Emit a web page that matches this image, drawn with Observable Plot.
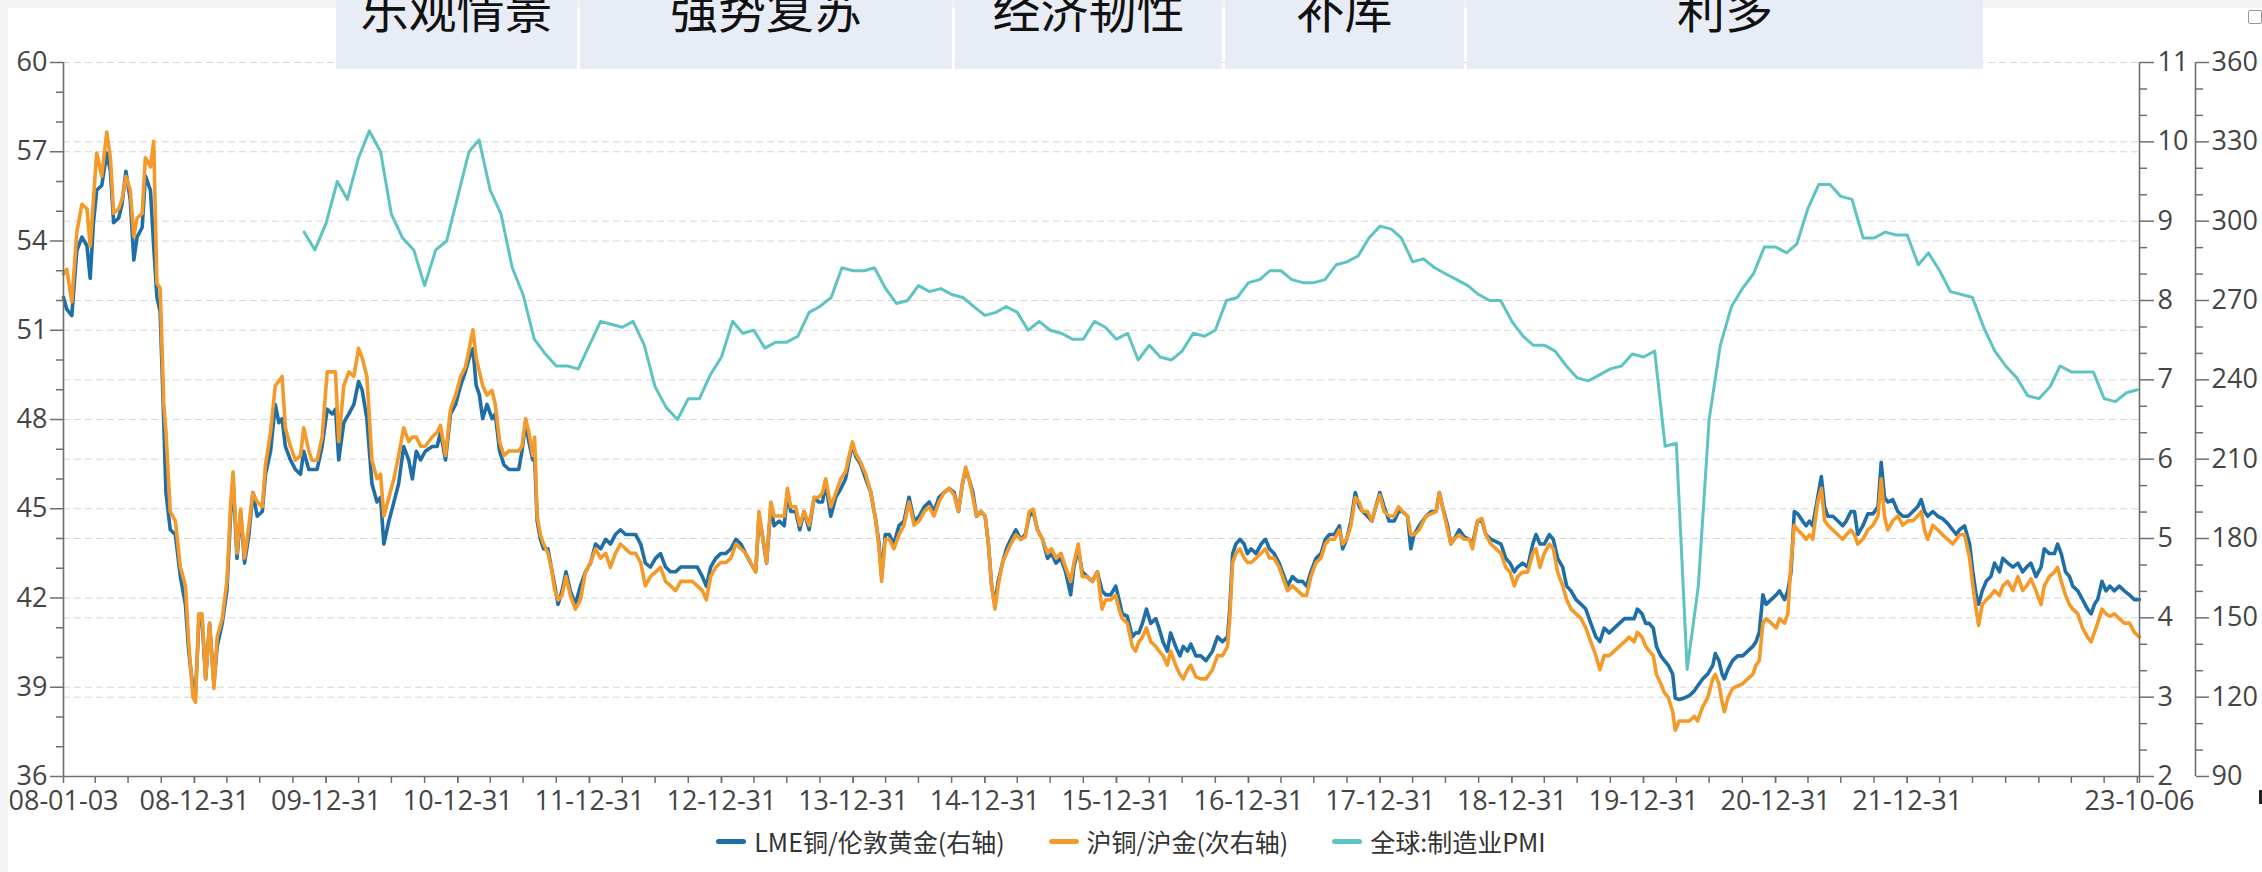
<!DOCTYPE html>
<html><head><meta charset="utf-8">
<script src="https://cdn.jsdelivr.net/npm/d3@7"></script>
<script src="https://cdn.jsdelivr.net/npm/@observablehq/plot@0.6"></script>
<style>
html,body{margin:0;padding:0;}
body{width:2262px;height:872px;background:#f3f3f3;position:relative;overflow:hidden;font-family:"Open Sans",sans-serif;}
#panel{position:absolute;left:8px;top:8px;width:2254px;height:864px;background:#fff;}
#chart{position:absolute;left:0;top:0;}
#hdr{position:absolute;left:336px;top:0;height:69px;display:flex;gap:3px;}
.cell{height:69px;background:#e8ecf5;position:relative;overflow:hidden;}
.cell span{position:absolute;left:0;right:0;top:-17px;text-align:center;font-family:"Noto Sans CJK SC";font-size:48px;line-height:48px;color:#111;white-space:nowrap;}
#legend{position:absolute;left:0;width:2262px;top:826px;height:30px;display:flex;justify-content:center;align-items:center;gap:44px;font-family:"Noto Sans CJK SC";font-size:25px;color:#333;}
.item{display:flex;align-items:center;gap:8px;}
.sym{width:30px;height:5px;border-radius:3px;}
#icon{position:absolute;left:2248px;top:10px;width:12px;height:12px;border:1.5px solid #999;border-radius:2px;}
#mark{position:absolute;left:2259px;top:790px;width:3px;height:14px;background:#222;}
</style></head><body>
<div id="panel"></div>
<div id="chart"></div>
<div id="hdr"></div>
<div id="legend"></div>
<div id="icon"></div>
<div id="mark"></div>
<script>
// ---------- DATA ----------
const seriesNames = ["LME铜/伦敦黄金(右轴)", "沪铜/沪金(次右轴)", "全球:制造业PMI"];
const headerLabels = ["乐观情景", "强势复苏", "经济韧性", "补库", "利多"];

// sample dates of the two copper/gold ratios, as decimal years
const ratioYears = [
 2008.006,2008.031,2008.069,2008.107,2008.144,2008.182,2008.208,2008.233,2008.258,2008.296,
 2008.334,2008.360,2008.385,2008.423,2008.448,2008.479,2008.511,2008.537,2008.562,2008.600,
 2008.625,2008.663,2008.689,2008.714,2008.739,2008.765,2008.782,2008.815,2008.853,2008.891,
 2008.929,2008.954,2008.985,2009.005,2009.030,2009.056,2009.081,2009.111,2009.144,2009.170,
 2009.207,2009.245,2009.271,2009.291,2009.321,2009.347,2009.377,2009.410,2009.440,2009.473,
 2009.511,2009.536,2009.574,2009.612,2009.638,2009.663,2009.688,2009.726,2009.764,2009.802,
 2009.828,2009.866,2009.891,2009.929,2009.967,2010.005,2010.043,2010.068,2010.093,2010.131,
 2010.169,2010.207,2010.245,2010.271,2010.308,2010.346,2010.384,2010.410,2010.435,2010.473,
 2010.511,2010.549,2010.587,
 2010.625,2010.651,2010.681,2010.714,2010.752,2010.802,2010.840,2010.866,2010.904,2010.942,
 2010.980,2011.018,2011.056,2011.086,2011.111,2011.137,2011.162,2011.187,2011.220,2011.258,
 2011.283,2011.314,2011.347,2011.385,2011.423,2011.460,2011.486,2011.511,2011.536,2011.567,
 2011.582,2011.600,2011.625,2011.650,2011.683,2011.708,2011.734,2011.759,2011.790,2011.820,
 2011.853,2011.891,2011.929,2011.967,2012.005,2012.043,2012.081,2012.119,2012.157,2012.194,
 2012.232,2012.270,2012.308,2012.346,2012.384,2012.422,2012.460,2012.498,2012.536,2012.574,
 2012.612,2012.650,2012.688,2012.726,2012.777,2012.815,2012.853,2012.883,2012.916,2012.954,
 2012.992,2013.030,2013.068,2013.106,2013.144,
 2013.182,2013.220,2013.258,2013.283,2013.308,2013.339,2013.372,2013.397,2013.435,2013.473,
 2013.498,2013.524,2013.562,2013.592,2013.625,2013.663,2013.701,2013.734,2013.764,2013.789,
 2013.827,2013.865,2013.903,2013.941,2013.967,2013.992,2014.017,2014.055,2014.093,2014.131,
 2014.169,2014.194,2014.215,2014.240,2014.270,2014.308,2014.346,2014.384,2014.422,2014.460,
 2014.498,2014.536,2014.574,2014.612,2014.650,2014.688,2014.726,2014.764,2014.797,2014.827,
 2014.852,2014.878,2014.908,2014.933,2014.966,2014.999,2015.024,2015.050,2015.075,2015.100,
 2015.131,2015.161,2015.194,2015.232,2015.270,2015.303,2015.333,2015.364,2015.397,2015.435,
 2015.473,2015.505,2015.536,2015.574,2015.612,2015.650,2015.675,2015.708,2015.738,
 2015.776,2015.814,2015.852,2015.889,2015.915,2015.953,2015.991,2016.016,2016.041,2016.079,
 2016.117,2016.143,2016.168,2016.193,2016.224,2016.256,2016.294,2016.320,2016.350,2016.383,
 2016.408,2016.446,2016.477,2016.502,2016.535,2016.560,2016.598,2016.636,2016.674,2016.699,
 2016.725,2016.763,2016.801,2016.839,2016.856,2016.877,2016.902,2016.932,2016.965,2016.990,
 2017.016,2017.054,2017.092,2017.125,2017.155,2017.193,2017.231,2017.269,2017.294,2017.332,
 2017.370,2017.408,2017.438,2017.471,2017.509,2017.547,2017.580,2017.611,2017.649,2017.687,
 2017.712,2017.742,2017.775,2017.808,2017.838,2017.864,2017.902,2017.935,2017.965,2017.995,
 2018.028,2018.066,2018.104,2018.137,2018.167,2018.205,2018.231,2018.256,2018.294,
 2018.345,2018.383,2018.421,2018.446,2018.472,2018.509,2018.535,2018.560,2018.598,2018.636,
 2018.674,2018.699,2018.737,2018.770,2018.801,2018.838,2018.876,2018.914,2018.952,2018.983,
 2019.016,2019.041,2019.079,2019.117,2019.155,2019.180,2019.211,2019.243,2019.281,2019.312,
 2019.345,2019.383,2019.413,2019.446,2019.484,2019.522,2019.560,2019.598,2019.636,2019.666,
 2019.699,2019.737,2019.775,2019.813,2019.851,2019.889,2019.927,2019.952,2019.985,2020.015,
 2020.041,2020.071,2020.096,2020.129,2020.155,2020.187,2020.218,2020.238,2020.269,2020.306,
 2020.344,2020.382,2020.408,2020.446,2020.484,2020.522,2020.542,2020.567,2020.593,2020.610,
 2020.636,2020.673,2020.711,2020.749,2020.787,2020.825,2020.851,
 2020.875,2020.901,2020.926,2020.964,2021.002,2021.027,2021.065,2021.090,2021.116,2021.141,
 2021.166,2021.204,2021.230,2021.255,2021.280,2021.318,2021.344,2021.369,2021.394,2021.432,
 2021.470,2021.508,2021.533,2021.571,2021.597,2021.622,2021.660,2021.698,2021.736,2021.774,
 2021.799,2021.824,2021.850,2021.888,2021.926,2021.964,2022.002,2022.040,2022.078,2022.103,
 2022.128,2022.153,2022.191,2022.229,2022.267,2022.305,2022.343,2022.369,2022.394,2022.432,
 2022.470,2022.495,2022.520,2022.541,2022.566,2022.596,2022.634,2022.660,2022.698,2022.723,
 2022.761,2022.799,2022.837,2022.875,2022.905,2022.938,2022.976,2023.014,2023.039,2023.077,
 2023.115,2023.141,2023.166,2023.199,2023.229,2023.254,2023.292,2023.330,2023.368,2023.394,
 2023.419,2023.444,2023.477,2023.508,2023.538,2023.571,2023.609,2023.647,2023.685,2023.723,
 2023.762
];

// LME copper / London gold (right axis)
const lmeCuAu = [
 8.04,7.89,7.81,8.63,8.80,8.69,8.28,8.98,9.39,9.45,
 9.86,9.63,8.98,9.04,9.21,9.63,9.27,8.51,8.80,8.92,
 9.57,9.39,8.69,8.04,7.86,6.46,5.58,5.11,5.05,4.52,
 4.17,3.58,3.11,3.05,3.93,3.99,3.23,3.93,3.17,3.64,
 3.93,4.34,5.28,5.75,4.75,5.34,4.69,5.05,5.58,5.28,
 5.34,5.81,6.10,6.69,6.46,6.51,6.16,5.99,5.87,5.81,
 6.10,5.87,5.87,5.87,6.16,6.63,6.57,6.63,5.99,6.46,
 6.57,6.69,6.98,6.87,6.51,5.69,5.46,5.52,4.93,5.22,
 5.46,5.69,6.16,
 5.99,5.75,6.10,5.99,6.10,6.16,6.16,6.34,5.99,6.57,
 6.69,6.93,7.10,7.28,7.39,6.93,6.81,6.51,6.69,6.51,
 6.57,6.10,5.93,5.87,5.87,5.87,6.10,6.46,6.22,5.99,
 6.04,5.22,4.99,4.87,4.87,4.64,4.40,4.17,4.34,4.58,
 4.34,4.17,4.40,4.58,4.69,4.93,4.87,4.99,4.93,5.05,
 5.11,5.05,5.05,5.05,4.93,4.69,4.64,4.75,4.81,4.64,
 4.58,4.58,4.64,4.64,4.64,4.64,4.52,4.40,4.64,4.75,
 4.81,4.81,4.87,4.99,4.93,
 4.81,4.69,4.58,5.28,5.05,4.69,5.40,5.16,5.22,5.16,
 5.58,5.34,5.34,5.11,5.34,5.11,5.52,5.46,5.46,5.69,
 5.28,5.52,5.63,5.75,5.99,6.19,6.04,5.93,5.75,5.58,
 5.22,4.93,4.52,5.05,5.05,4.93,5.16,5.22,5.52,5.22,
 5.28,5.40,5.46,5.34,5.52,5.58,5.63,5.58,5.34,5.69,
 5.87,5.75,5.58,5.28,5.34,5.28,4.93,4.40,4.17,4.46,
 4.69,4.87,4.99,5.11,4.99,5.05,5.28,5.34,5.11,4.99,
 4.75,4.81,4.69,4.75,4.58,4.29,4.64,4.87,4.58,
 4.52,4.46,4.58,4.34,4.29,4.29,4.40,4.23,4.05,4.02,
 3.76,3.81,3.81,3.93,4.11,3.93,3.99,3.87,3.70,3.58,
 3.81,3.64,3.52,3.64,3.58,3.67,3.52,3.52,3.46,3.52,
 3.58,3.76,3.70,3.76,4.11,4.81,4.93,4.99,4.93,4.81,
 4.87,4.81,4.93,4.99,4.87,4.81,4.69,4.52,4.40,4.52,
 4.46,4.46,4.40,4.58,4.75,4.81,4.99,5.05,5.05,5.16,
 4.87,4.99,5.22,5.58,5.40,5.34,5.28,5.22,5.40,5.58,
 5.40,5.22,5.22,5.34,5.34,5.28,4.87,5.05,5.16,
 5.28,5.34,5.34,5.58,5.40,5.16,4.93,4.99,5.11,5.02,
 4.99,4.93,5.22,5.22,5.05,4.99,4.96,4.93,4.75,4.69,
 4.58,4.64,4.69,4.64,4.93,5.05,4.93,4.93,5.05,4.99,
 4.75,4.64,4.40,4.34,4.23,4.17,4.11,3.93,3.76,3.70,
 3.87,3.81,3.87,3.93,3.99,3.99,3.99,4.11,4.05,3.93,
 3.93,3.87,3.64,3.52,3.46,3.40,3.29,2.99,2.97,2.99,
 3.02,3.08,3.14,3.23,3.29,3.40,3.55,3.46,3.29,3.23,
 3.35,3.46,3.52,3.52,3.58,3.64,3.70,
 3.82,4.29,4.17,4.23,4.29,4.34,4.23,4.34,4.58,5.34,
 5.31,5.22,5.16,5.22,5.16,5.52,5.78,5.40,5.28,5.28,
 5.22,5.16,5.22,5.34,5.34,5.05,5.16,5.31,5.31,5.40,
 5.96,5.52,5.46,5.49,5.34,5.28,5.28,5.34,5.40,5.49,
 5.34,5.28,5.34,5.28,5.25,5.19,5.11,5.05,5.11,5.16,
 4.93,4.58,4.29,4.17,4.34,4.46,4.52,4.69,4.58,4.75,
 4.69,4.64,4.69,4.58,4.64,4.69,4.52,4.64,4.87,4.81,
 4.81,4.93,4.81,4.58,4.52,4.40,4.34,4.23,4.11,4.05,
 4.17,4.23,4.46,4.34,4.40,4.34,4.40,4.34,4.29,4.23,
 4.23
];

// SHFE copper / SHFE gold (second right axis)
const shfeCuAu = [
 280.0,281.8,269.5,295.9,306.4,304.7,290.6,308.2,325.8,317.0,
 333.7,324.0,302.9,304.7,308.2,317.0,311.7,294.1,301.2,302.9,
 324.0,320.5,330.2,276.5,274.7,230.7,220.2,190.2,186.7,169.1,
 162.1,141.0,119.8,118.1,151.5,151.5,126.9,148.0,123.3,142.7,
 149.7,163.8,192.0,205.2,174.4,191.1,172.6,185.0,197.3,193.8,
 192.0,207.8,220.2,237.8,239.5,241.3,221.9,214.9,209.6,211.4,
 221.9,213.1,209.6,209.6,218.4,243.0,243.0,243.0,216.6,237.8,
 243.0,241.3,251.9,248.3,241.3,209.6,202.6,204.3,188.5,195.5,
 202.6,211.4,221.9,
 216.6,218.4,218.4,214.9,214.9,218.4,220.2,222.8,211.4,229.0,
 234.2,241.3,244.8,251.9,258.9,248.3,243.0,237.8,234.2,236.0,
 230.7,216.6,211.4,213.1,213.1,213.1,214.9,225.4,220.2,211.4,
 218.4,188.5,181.4,177.9,174.4,169.1,160.3,156.8,158.5,165.6,
 158.5,153.3,156.8,167.3,170.9,176.1,172.6,174.4,169.1,174.4,
 177.9,176.1,174.4,174.4,170.9,162.1,165.6,167.3,169.1,163.8,
 162.1,160.3,163.8,163.8,163.8,162.1,160.3,156.8,165.6,169.1,
 170.9,170.9,172.6,177.9,176.1,
 174.4,170.9,167.3,190.2,181.4,170.9,193.8,188.5,188.5,188.5,
 199.0,192.0,192.0,185.0,190.2,185.0,195.5,195.5,197.3,202.6,
 192.0,197.3,202.6,205.2,211.4,216.6,212.2,208.7,204.3,197.3,
 186.7,176.1,163.8,179.7,179.7,176.1,181.4,185.0,193.8,185.0,
 186.7,190.2,192.0,188.5,193.8,197.3,199.0,196.4,190.2,200.8,
 207.0,202.6,195.5,188.5,190.2,188.5,177.9,162.1,153.3,162.1,
 170.9,174.4,177.9,181.4,179.7,180.6,190.2,191.1,183.2,179.7,
 174.4,176.1,172.6,174.4,169.1,163.8,170.9,177.9,165.6,
 165.6,163.8,167.3,153.3,156.8,156.8,158.5,153.3,149.7,148.0,
 139.2,137.4,140.9,142.7,146.2,140.9,139.2,137.4,135.7,132.1,
 137.4,132.1,128.6,126.9,130.4,132.1,127.7,126.9,126.9,128.6,
 130.4,135.7,135.7,139.2,149.7,170.9,174.4,176.1,172.6,170.9,
 170.9,172.6,174.4,176.1,172.6,172.6,169.1,163.8,160.3,162.1,
 160.3,158.5,158.5,165.6,170.9,172.6,177.9,179.7,179.7,183.2,
 177.9,179.7,185.0,195.5,193.8,190.2,190.2,186.7,192.0,196.4,
 190.2,188.5,188.5,192.0,190.2,188.5,181.4,181.4,183.2,
 188.5,189.3,190.2,197.3,192.0,183.2,177.9,179.7,181.4,179.7,
 179.7,176.1,186.7,187.6,181.4,177.9,176.1,174.4,169.1,167.3,
 162.1,165.6,167.3,167.3,174.4,176.1,169.1,174.4,177.9,176.1,
 167.3,162.1,156.8,153.3,151.5,149.7,146.2,140.9,135.7,130.4,
 135.7,135.7,137.4,139.2,140.9,142.7,140.9,144.5,142.7,139.2,
 137.4,135.7,128.6,125.1,121.6,119.8,114.5,107.5,111.0,111.0,
 111.0,112.8,111.0,116.3,119.8,126.9,128.6,125.1,118.1,114.5,
 119.8,123.3,124.2,125.1,126.9,128.6,132.1,
 133.9,148.0,149.7,148.0,146.2,149.7,148.0,151.5,170.9,185.0,
 183.2,181.4,179.7,181.4,179.7,193.8,199.0,186.7,185.0,183.2,
 181.4,179.7,181.4,183.2,181.4,177.9,179.7,183.2,185.0,188.5,
 202.6,188.5,183.2,186.7,188.5,185.0,186.7,186.7,188.5,190.2,
 183.2,179.7,185.0,183.2,181.4,179.7,177.9,179.7,181.4,181.4,
 172.6,162.1,153.3,147.1,155.0,156.8,158.5,160.3,158.5,162.1,
 163.8,160.3,165.6,160.3,162.1,164.7,160.3,155.0,162.1,165.6,
 167.3,169.1,163.8,158.5,155.0,153.3,151.5,146.2,142.7,140.9,
 144.5,148.0,153.3,151.5,150.6,151.5,149.7,148.0,148.0,144.5,
 142.7
];

// Global manufacturing PMI, monthly from 2009-10 (left axis)
const pmiStartMonth = "2009-10";
const pmiValues = [
 54.3,53.7,54.6,
 56.0,55.4,56.8,57.7,57.0,54.9,54.1,53.7,52.5,53.7,54.0,55.5,
 57.0,57.4,55.7,54.9,53.1,52.2,50.7,50.2,49.8,49.8,49.7,50.5,
 51.3,51.2,51.1,51.3,50.5,49.1,48.4,48.0,48.7,48.7,49.5,50.1,
 51.3,50.9,51.0,50.4,50.6,50.6,50.8,51.6,51.8,52.1,53.1,53.0,
 53.0,53.1,52.4,51.9,52.0,52.5,52.3,52.4,52.2,52.1,51.8,51.5,
 51.6,51.8,51.6,51.0,51.3,51.0,50.9,50.7,50.7,51.3,51.1,50.7,
 50.9,50.0,50.5,50.1,50.0,50.3,50.9,50.8,51.0,52.0,52.1,52.6,
 52.7,53.0,53.0,52.7,52.6,52.6,52.7,53.2,53.3,53.5,54.1,54.5,
 54.4,54.1,53.3,53.4,53.1,52.9,52.7,52.5,52.2,52.0,52.0,51.3,
 50.8,50.5,50.5,50.3,49.8,49.4,49.3,49.5,49.7,49.8,50.2,50.1,
 50.3,47.1,47.2,39.6,42.4,48.0,50.5,51.8,52.4,52.9,53.8,53.8,
 53.6,53.9,55.1,55.9,55.9,55.5,55.4,54.1,54.1,54.3,54.2,54.2,
 53.2,53.6,53.0,52.3,52.2,52.1,51.1,50.3,49.8,49.4,48.8,48.7,
 49.1,49.8,49.6,49.6,49.6,48.7,48.6,48.9,49.0
];

// axis ticks
const leftTicks = [36, 39, 42, 45, 48, 51, 54, 57, 60];
const rightTicks = [2, 3, 4, 5, 6, 7, 8, 9, 10, 11];
const thirdTicks = [90, 120, 150, 180, 210, 240, 270, 300, 330, 360];
const xLabelDates = ["2008-01-03","2008-12-31","2009-12-31","2010-12-31","2011-12-31","2012-12-31",
  "2013-12-31","2014-12-31","2015-12-31","2016-12-31","2017-12-31","2018-12-31","2019-12-31",
  "2020-12-31","2021-12-31","2023-10-06"];

// ---------- STYLE / LAYOUT ----------
const colors = ["#1f6ea6", "#f39a2b", "#5ec4c1"];
const AX = "#6f6f6f", TXT = "#444", GRID = "#d6d6d6";
const headerWidths = [241, 372, 267, 239, 516];

// ---------- BUILD ----------
function yearToDate(t) {
  const y = Math.floor(t);
  const s = Date.UTC(y, 0, 1), e = Date.UTC(y + 1, 0, 1);
  return new Date(Math.round((s + (t - y) * (e - s)) / 864e5) * 864e5);
}
const lmeData = ratioYears.map((t, i) => ({date: yearToDate(t), v: lmeCuAu[i]}));
const shfeData = ratioYears.map((t, i) => ({date: yearToDate(t), v: shfeCuAu[i]}));
const pmiStart = new Date(pmiStartMonth + "-01T00:00:00Z");
const pmiData = pmiValues.map((v, i) => ({date: d3.utcDay.offset(d3.utcMonth.offset(pmiStart, i + 1), -1), v}));

// map right / second-right axes onto the left-axis scale
const rToL = r => 36 + (r - 2) * 24 / 9;
const tToL = v => 36 + (v - 90) * 24 / 270;
const lToR = l => Math.round(2 + (l - 36) * 9 / 24);
const lToT = l => Math.round(90 + (l - 36) * 270 / 24);

const leftMinor = [];
for (let i = 0; i < leftTicks.length - 1; i++) { leftMinor.push(leftTicks[i] + 1, leftTicks[i] + 2); }
const rightMinor = [];
for (let i = 0; i < rightTicks.length - 1; i++) { rightMinor.push(rToL(rightTicks[i] + 1/3), rToL(rightTicks[i] + 2/3)); }

const xStart = new Date(xLabelDates[0]), xEnd = new Date(xLabelDates[xLabelDates.length - 1]);
const quarterTicks = d3.utcMonth.range(new Date("2008-04-01"), d3.utcDay.offset(xEnd, 1), 3).map(d => d3.utcDay.offset(d, -1));
const xLabels = xLabelDates.map(s => new Date(s));
const fmt = d3.utcFormat("%y-%m-%d");
const OFF2 = 56;

const chart = Plot.plot({
  width: 2262, height: 820,
  marginLeft: 63, marginRight: 123, marginTop: 62, marginBottom: 44,
  x: {type: "utc", domain: [xStart, xEnd], label: null},
  y: {domain: [36, 60], label: null},
  style: {background: "transparent", fontFamily: '"Open Sans", sans-serif', fontSize: "27px", color: TXT, overflow: "visible"},
  marks: [
    Plot.gridY(leftTicks.filter(v => v > 36), {stroke: GRID, strokeOpacity: 1, strokeDasharray: "7,4"}),
    Plot.gridY(rightTicks.filter(v => v > 2).map(rToL), {stroke: GRID, strokeOpacity: 1, strokeDasharray: "7,4"}),
    Plot.line(lmeData, {x: "date", y: d => rToL(d.v), stroke: colors[0], strokeWidth: 3.6}),
    Plot.line(shfeData, {x: "date", y: d => tToL(d.v), stroke: colors[1], strokeWidth: 3.6}),
    Plot.line(pmiData, {x: "date", y: "v", stroke: colors[2], strokeWidth: 3}),
    Plot.ruleX([xStart], {stroke: AX, strokeWidth: 1.6}),
    Plot.ruleX([xEnd], {stroke: AX, strokeWidth: 1.6}),
    Plot.ruleX([xEnd], {stroke: AX, strokeWidth: 1.6, dx: OFF2}),
    Plot.ruleY([36], {stroke: AX, strokeWidth: 1.6}),
    Plot.axisY(leftTicks, {anchor: "left", tickSize: 13, tickPadding: 3, stroke: AX, color: TXT, strokeWidth: 1.5}),
    Plot.axisY(leftMinor, {anchor: "left", tickSize: 7, stroke: AX, fill: "none", strokeWidth: 1.5}),
    Plot.axisY(rightTicks.map(rToL), {anchor: "right", tickSize: 14, tickPadding: 4, stroke: AX, color: TXT, strokeWidth: 1.5, tickFormat: lToR}),
    Plot.axisY(rightMinor, {anchor: "right", tickSize: 7, stroke: AX, fill: "none", strokeWidth: 1.5}),
    Plot.axisY(thirdTicks.map(tToL), {anchor: "right", dx: OFF2, tickSize: 13, tickPadding: 3, stroke: AX, color: TXT, strokeWidth: 1.5, tickFormat: lToT}),
    Plot.axisY(rightMinor, {anchor: "right", dx: OFF2, tickSize: 7, stroke: AX, fill: "none", strokeWidth: 1.5}),
    Plot.axisX(quarterTicks, {anchor: "bottom", tickSize: 7, stroke: AX, fill: "none", strokeWidth: 1.5}),
    Plot.axisX(xLabels, {anchor: "bottom", tickSize: 7, tickPadding: 7, stroke: AX, color: TXT, strokeWidth: 1.5, tickFormat: fmt})
  ]
});
document.getElementById("chart").append(chart);

// header table
const hdr = document.getElementById("hdr");
headerLabels.forEach((t, i) => {
  const c = document.createElement("div");
  c.className = "cell";
  c.style.width = headerWidths[i] + "px";
  const s = document.createElement("span");
  s.textContent = t;
  c.append(s);
  hdr.append(c);
});

// legend
const lg = document.getElementById("legend");
seriesNames.forEach((n, i) => {
  const it = document.createElement("div");
  it.className = "item";
  const sym = document.createElement("div");
  sym.className = "sym";
  sym.style.background = colors[i];
  const tx = document.createElement("span");
  tx.textContent = n;
  it.append(sym, tx);
  lg.append(it);
});

if (ratioYears.length !== lmeCuAu.length || ratioYears.length !== shfeCuAu.length) {
  const w = document.createElement("div");
  w.style.cssText = "position:absolute;left:100px;top:300px;color:red;font-size:30px";
  w.textContent = "LENGTH MISMATCH " + ratioYears.length + " " + lmeCuAu.length + " " + shfeCuAu.length;
  document.body.append(w);
}
</script>
</body></html>
